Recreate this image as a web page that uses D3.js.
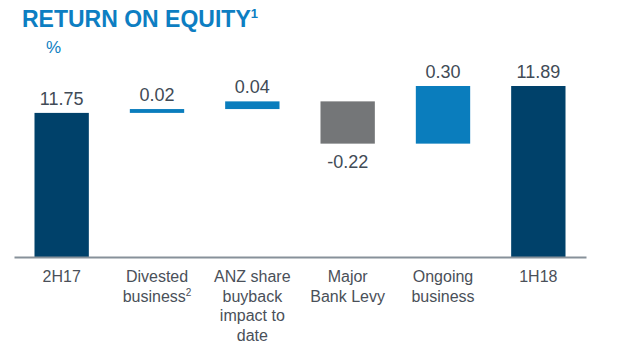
<!DOCTYPE html>
<html>
<head>
<meta charset="utf-8">
<script src="https://cdn.jsdelivr.net/npm/d3@7"></script>
<style>
  body { margin: 0; background: #fff; }
  text { font-family: "Liberation Sans", Arial, sans-serif; }
</style>
</head>
<body>
<div id="container"></div>
<script>
let w = 619;
let h = 352;

// data
let categories = ["2H17", "Divested", "ANZ share", "Major", "Ongoing", "1H18"];
let categoryLines = [
  ["2H17"],
  ["Divested", "business|2"],
  ["ANZ share", "buyback", "impact to", "date"],
  ["Major", "Bank Levy"],
  ["Ongoing", "business"],
  ["1H18"]
];
let values = [11.75, 0.02, 0.04, -0.22, 0.30, 11.89];
let kinds = ["total", "step", "step", "step", "step", "total"];
let valueLabels = ["11.75", "0.02", "0.04", "-0.22", "0.30", "11.89"];

let colors = {
  total: "#00416a",
  up: "#0a7dbd",
  down: "#747678"
};

let viz = d3.select("#container").append("svg")
  .attr("width", w)
  .attr("height", h)
  .style("background-color", "white");

// build waterfall segments
let running = 0;
let bars = [];
for (let i = 0; i < values.length; i++) {
  let v = values[i];
  if (kinds[i] == "total") {
    bars.push({ cat: categories[i], lo: null, hi: v, kind: "total", label: valueLabels[i], lines: categoryLines[i] });
    running = v;
  } else {
    let start = running;
    let end = running + v;
    bars.push({ cat: categories[i], lo: Math.min(start, end), hi: Math.max(start, end), kind: v < 0 ? "down" : "up", label: valueLabels[i], lines: categoryLines[i] });
    running = end;
  }
}

let xScale = d3.scaleBand().domain(categories).range([14, 586]).paddingInner(0.43).paddingOuter(0.215);
let yScale = d3.scaleLinear().domain([11.0, 11.89]).range([257, 86]);
let baseY = yScale(11.0);

// title
let title = viz.append("text")
  .attr("x", 22)
  .attr("y", 27)
  .attr("fill", "#0d7ec2")
  .attr("font-size", 23)
  .attr("font-weight", "bold")
  .text("RETURN ON EQUITY");
title.append("tspan")
  .attr("font-size", 13)
  .attr("dy", -9)
  .text("1");

viz.append("text")
  .attr("x", 46)
  .attr("y", 53)
  .attr("fill", "#0d7ec2")
  .attr("font-size", 17)
  .text("%");

// bars
viz.selectAll(".bar").data(bars).enter().append("rect")
  .attr("class", "bar")
  .attr("x", d => xScale(d.cat))
  .attr("width", xScale.bandwidth())
  .attr("y", d => yScale(d.hi))
  .attr("height", d => (d.kind == "total" ? baseY : yScale(d.lo)) - yScale(d.hi))
  .attr("fill", d => colors[d.kind]);

// value labels
viz.selectAll(".val").data(bars).enter().append("text")
  .attr("class", "val")
  .attr("x", d => xScale(d.cat) + xScale.bandwidth() / 2)
  .attr("y", d => d.kind == "down" ? yScale(d.lo) + 24 : yScale(d.hi) - 8)
  .attr("text-anchor", "middle")
  .attr("font-size", 18)
  .attr("fill", "#414b56")
  .text(d => d.label);

// axis line
let xAxis = d3.axisBottom(xScale).tickSize(0).tickSizeOuter(0).tickFormat("");
let xAxisGroup = viz.append("g").attr("class", "xAxis")
  .attr("transform", "translate(0, " + baseY + ")")
  .call(xAxis);
xAxisGroup.select(".domain").attr("stroke", "#87919a").attr("stroke-width", 2);

// category labels
let catGroups = viz.selectAll(".cat").data(bars).enter().append("text")
  .attr("class", "cat")
  .attr("text-anchor", "middle")
  .attr("font-size", 16)
  .attr("fill", "#4a5059");

catGroups.each(function(d) {
  let t = d3.select(this);
  let cx = xScale(d.cat) + xScale.bandwidth() / 2;
  d.lines.forEach(function(line, j) {
    let parts = line.split("|");
    let ts = t.append("tspan")
      .attr("x", cx)
      .attr("y", 282 + j * 19.5)
      .text(parts[0]);
    if (parts.length > 1) {
      t.append("tspan")
        .attr("font-size", 10)
        .attr("dy", -6)
        .text(parts[1]);
    }
  });
});
</script>
</body>
</html>
